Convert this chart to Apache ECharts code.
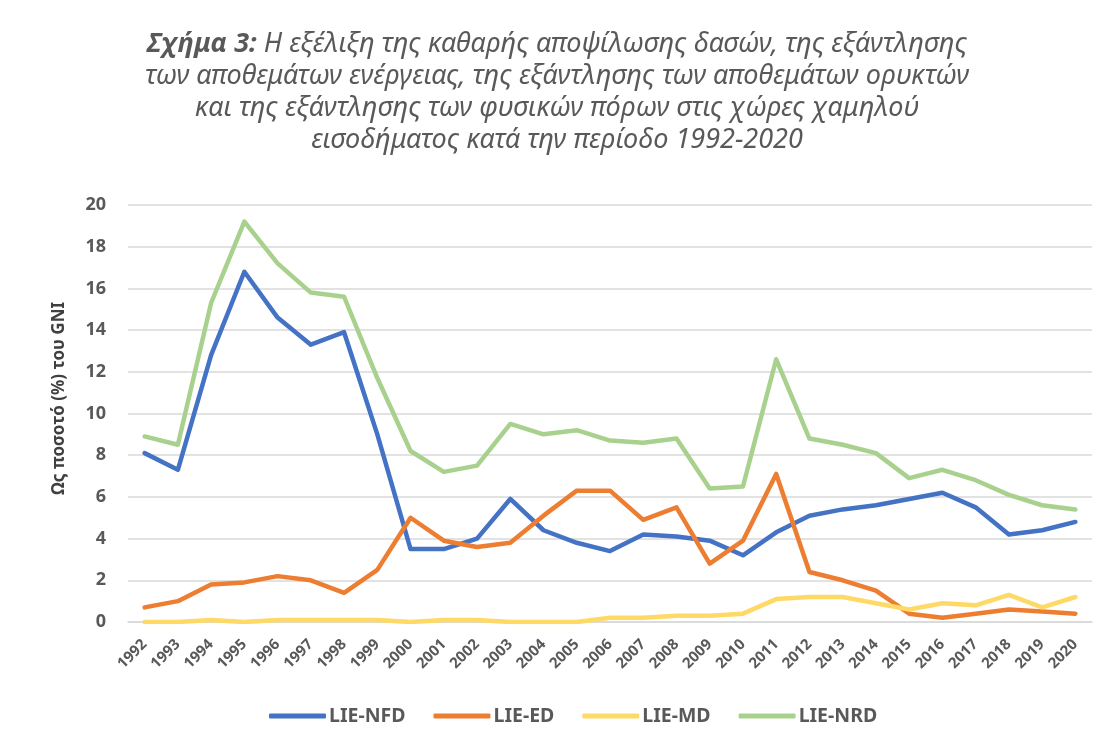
<!DOCTYPE html>
<html>
<head>
<meta charset="utf-8">
<script src="https://cdn.jsdelivr.net/npm/echarts@6/dist/echarts.min.js"></script>
<style>
  html, body { margin: 0; padding: 0; background: #fff; }
  #chart { width: 1113px; height: 747px; }
</style>
</head>
<body>
<div id="chart"></div>
<script>
var years = ['1992','1993','1994','1995','1996','1997','1998','1999','2000','2001','2002','2003','2004','2005','2006','2007','2008','2009','2010','2011','2012','2013','2014','2015','2016','2017','2018','2019','2020'];

var nfd = [8.1, 7.3, 12.8, 16.8, 14.6, 13.3, 13.9, 9.0, 3.5, 3.5, 4.0, 5.9, 4.4, 3.8, 3.4, 4.2, 4.1, 3.9, 3.2, 4.3, 5.1, 5.4, 5.6, 5.9, 6.2, 5.5, 4.2, 4.4, 4.8];
var ed  = [0.7, 1.0, 1.8, 1.9, 2.2, 2.0, 1.4, 2.5, 5.0, 3.9, 3.6, 3.8, 5.1, 6.3, 6.3, 4.9, 5.5, 2.8, 3.9, 7.1, 2.4, 2.0, 1.5, 0.4, 0.2, 0.4, 0.6, 0.5, 0.4];
var md  = [0.0, 0.0, 0.1, 0.0, 0.1, 0.1, 0.1, 0.1, 0.0, 0.1, 0.1, 0.0, 0.0, 0.0, 0.2, 0.2, 0.3, 0.3, 0.4, 1.1, 1.2, 1.2, 0.9, 0.6, 0.9, 0.8, 1.3, 0.7, 1.2];
var nrd = [8.9, 8.5, 15.3, 19.2, 17.2, 15.8, 15.6, 11.7, 8.2, 7.2, 7.5, 9.5, 9.0, 9.2, 8.7, 8.6, 8.8, 6.4, 6.5, 12.6, 8.8, 8.5, 8.1, 6.9, 7.3, 6.8, 6.1, 5.6, 5.4];

var seriesNames = ['LIE-NFD', 'LIE-ED', 'LIE-MD', 'LIE-NRD'];
var colors = ['#4472C4', '#ED7D31', '#FFD966', '#A9D18E'];

var titleLines = [
    '{b|Σχήμα 3:} Η εξέλιξη της καθαρής αποψίλωσης δασών, της εξάντλησης',
    'των αποθεμάτων ενέργειας, της εξάντλησης των αποθεμάτων ορυκτών',
    'και της εξάντλησης των φυσικών πόρων στις χώρες χαμηλού',
    'εισοδήματος κατά την περίοδο 1992-2020'
];

var myChart = echarts.init(document.getElementById('chart'));

function mkLine(name, data, color) {
    return {
        name: name,
        type: 'line',
        data: data,
        symbol: 'none',
        lineStyle: { width: 4.5, color: color, cap: 'round', join: 'round' },
        itemStyle: { color: color }
    };
}

var option = {
    animation: false,
    color: colors,
    graphic: [{
        type: 'text',
        x: 557,
        y: 28,
        style: {
            text: titleLines.join('\n'),
            align: 'center',
            verticalAlign: 'top',
            fontFamily: 'Noto Sans',
            fontStyle: 'italic',
            fontSize: 27,
            lineHeight: 32,
            fill: '#595959',
            rich: {
                b: {
                    fontFamily: 'Noto Sans',
                    fontStyle: 'italic',
                    fontWeight: 'bold',
                    fontSize: 27,
                    lineHeight: 32,
                    fill: '#595959'
                }
            }
        }
    }],
    grid: {
        left: 128,
        right: 21,
        top: 205,
        bottom: 125
    },
    legend: {
        data: seriesNames,
        top: 701,
        left: 264,
        itemWidth: 57,
        itemHeight: 5,
        itemGap: 28,
        icon: 'roundRect',
        textStyle: {
            fontFamily: 'Noto Sans',
            fontWeight: 'bold',
            fontSize: 19.5,
            color: '#595959',
            padding: [0, 0, 0, -2]
        }
    },
    xAxis: {
        type: 'category',
        data: years,
        boundaryGap: true,
        axisLine: { lineStyle: { color: '#d9d9d9', width: 1.5 } },
        axisTick: { show: false },
        axisLabel: {
            interval: 0,
            rotate: 45,
            margin: 20,
            fontFamily: 'Noto Sans',
            fontWeight: 'bold',
            fontSize: 15,
            color: '#595959'
        }
    },
    yAxis: {
        type: 'value',
        min: 0,
        max: 20,
        interval: 2,
        name: 'Ως ποσοτό (%) του GNI',
        nameLocation: 'middle',
        nameGap: 60,
        nameTextStyle: {
            fontFamily: 'Noto Sans',
            fontWeight: 'bold',
            fontSize: 17,
            color: '#404040',
            padding: [0, 0, 0, 30]
        },
        axisLine: { show: false },
        axisTick: { show: false },
        axisLabel: {
            margin: 22,
            fontFamily: 'Noto Sans',
            fontWeight: 'bold',
            fontSize: 18,
            color: '#595959'
        },
        splitLine: { lineStyle: { color: '#d9d9d9', width: 1.5 } }
    },
    series: [
        mkLine(seriesNames[0], nfd, colors[0]),
        mkLine(seriesNames[1], ed, colors[1]),
        mkLine(seriesNames[2], md, colors[2]),
        mkLine(seriesNames[3], nrd, colors[3])
    ]
};

myChart.setOption(option);
</script>
</body>
</html>
